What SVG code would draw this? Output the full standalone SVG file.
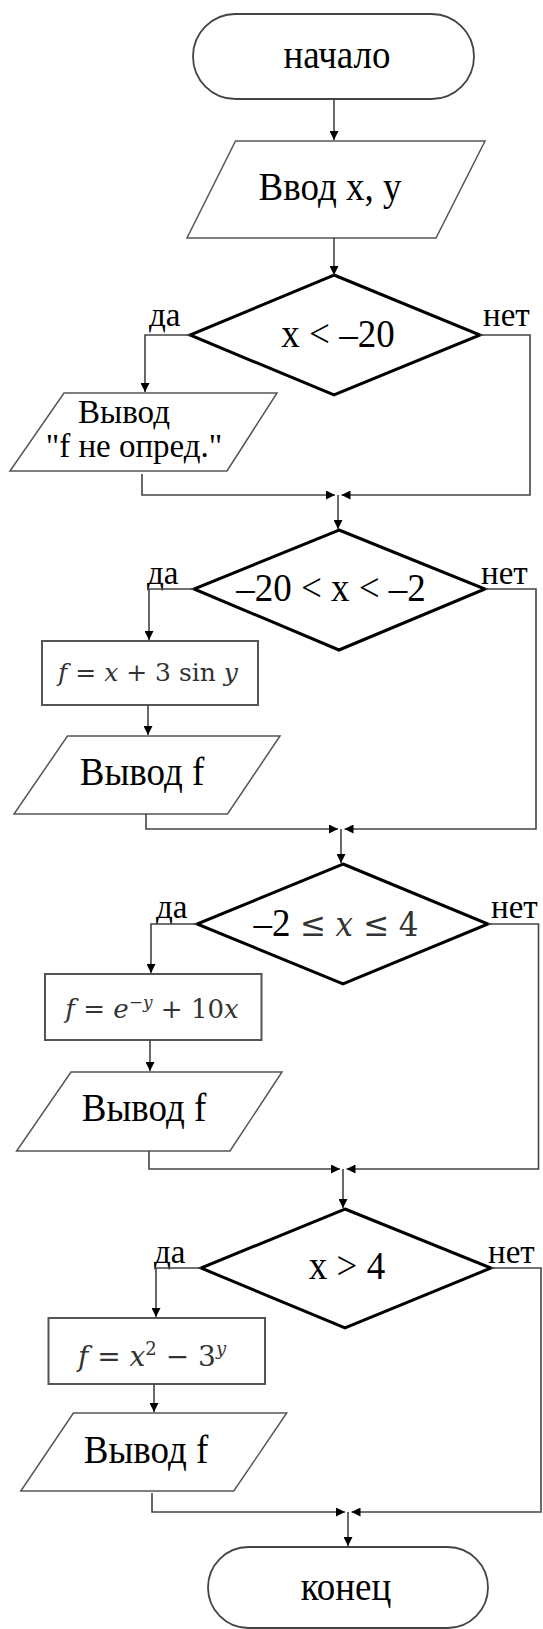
<svg xmlns="http://www.w3.org/2000/svg" width="543" height="1629" viewBox="0 0 543 1629">
<style>
.term{fill:#fff;stroke:#444;stroke-width:1.8}
.io{fill:#fff;stroke:#555;stroke-width:1.5}
.proc{fill:#fff;stroke:#555;stroke-width:2}
.dec{fill:#fff;stroke:#000;stroke-width:3;stroke-linejoin:miter}
.t{font-family:"Liberation Serif","Times New Roman",serif;font-size:37px;fill:#000}
.tl{font-family:"Liberation Serif","Times New Roman",serif;font-size:33px;fill:#000}
.lbl{font-family:"Liberation Serif","Times New Roman",serif;font-size:33px;fill:#000}
.m{font-family:"DejaVu Serif","Liberation Serif",serif;font-size:25px;fill:#333}
.mi{font-style:italic}
.con{fill:none;stroke:#444;stroke-width:1.6}
</style>
<defs>
<marker id="ah" viewBox="0 0 10 10" refX="10" refY="5" markerWidth="9" markerHeight="9" markerUnits="userSpaceOnUse" orient="auto">
<path d="M0,0 L10,5 L0,10 z" fill="#000"/>
</marker>
</defs>

<g id="start">
<rect class="term" x="193" y="14" width="281" height="85" rx="42.5"/>
<text class="t" transform="translate(337,68) scale(1,1.08)" text-anchor="middle">начало</text>
</g>
<g id="input">
<polygon class="io" points="235.5,141 485,141 436,238 187,238"/>
<text class="t" transform="translate(330,200) scale(1,1.08)" text-anchor="middle">Ввод x, y</text>
</g>
<g id="d1">
<polygon class="dec" points="334,275 480,335 334,395 190,335"/>
<text class="t" transform="translate(338,347) scale(1,1.08)" text-anchor="middle">x &lt; –20</text>
</g>
<g id="out0">
<polygon class="io" points="64,393 277,393 227,471 10,471"/>
<text class="tl" x="124" y="423" text-anchor="middle">Вывод</text>
<text class="tl" x="134" y="457" text-anchor="middle">"f не опред."</text>
</g>
<g id="d2">
<polygon class="dec" points="339,530 485,589 339,650 194,589"/>
<text class="t" transform="translate(331,601) scale(1,1.08)" text-anchor="middle">–20 &lt; x &lt; –2</text>
</g>
<g id="p1">
<rect class="proc" x="42" y="641" width="216" height="64"/>
<text class="m" x="148" y="681" text-anchor="middle"><tspan class="mi">f</tspan>  = <tspan class="mi">x</tspan> + 3 sin <tspan class="mi">y</tspan></text>
</g>
<g id="out1">
<polygon class="io" points="67.5,736 280,736 227.5,814 14,814"/>
<text class="t" transform="translate(142,785) scale(1,1.08)" text-anchor="middle">Вывод f</text>
</g>
<g id="d3">
<polygon class="dec" points="343,864 488,924 343,984 197,924"/>
<text class="t" transform="translate(336,936) scale(1,1.08)" text-anchor="middle">–2 <tspan class="m" style="font-size:31px">≤ <tspan class="mi">x</tspan> ≤ 4</tspan></text>
</g>
<g id="p2">
<rect class="proc" x="45" y="974" width="216.5" height="66"/>
<text class="m" x="152" y="1018" text-anchor="middle" style="font-size:26px"><tspan class="mi">f</tspan>  = <tspan class="mi">e</tspan><tspan dy="-10" style="font-size:17px">−<tspan class="mi">y</tspan></tspan><tspan dy="10"> + 10</tspan><tspan class="mi">x</tspan></text>
</g>
<g id="out2">
<polygon class="io" points="71,1072 282,1072 230,1151 16.6,1151"/>
<text class="t" transform="translate(144,1121) scale(1,1.08)" text-anchor="middle">Вывод f</text>
</g>
<g id="d4">
<polygon class="dec" points="345,1209 491,1268 345,1328 201,1268"/>
<text class="t" transform="translate(347,1279) scale(1,1.08)" text-anchor="middle">x &gt; 4</text>
</g>
<g id="p3">
<rect class="proc" x="48.5" y="1318" width="216.5" height="66"/>
<text class="m" x="152" y="1366" text-anchor="middle" style="font-size:28px"><tspan class="mi">f</tspan>  = <tspan class="mi">x</tspan><tspan dy="-11" style="font-size:18px">2</tspan><tspan dy="11"> − 3</tspan><tspan dy="-11" style="font-size:18px" class="mi">y</tspan></text>
</g>
<g id="out3">
<polygon class="io" points="73.4,1413 286.7,1413 233.8,1491 20.8,1491"/>
<text class="t" transform="translate(146,1463) scale(1,1.08)" text-anchor="middle">Вывод f</text>
</g>
<g id="end">
<rect class="term" x="208" y="1547" width="280" height="81" rx="40.5"/>
<text class="t" transform="translate(346,1600) scale(1,1.08)" text-anchor="middle">конец</text>
</g>

<g id="labels">
<text class="lbl" x="149" y="326">да</text>
<text class="lbl" x="483" y="326">нет</text>
<text class="lbl" x="147" y="584">да</text>
<text class="lbl" x="481" y="584">нет</text>
<text class="lbl" x="156" y="918">да</text>
<text class="lbl" x="491" y="918">нет</text>
<text class="lbl" x="154" y="1263">да</text>
<text class="lbl" x="488" y="1263">нет</text>
</g>

<g id="connectors">
<path class="con" d="M334,99 V140" marker-end="url(#ah)"/>
<path class="con" d="M334,238 V275" marker-end="url(#ah)"/>
<path class="con" d="M190,335 H145 V392" marker-end="url(#ah)"/>
<path class="con" d="M142,474 V495 H335" marker-end="url(#ah)"/>
<path class="con" d="M480,335 H530 V495 H341.5" marker-end="url(#ah)"/>
<path class="con" d="M338,495 V529" marker-end="url(#ah)"/>

<path class="con" d="M194,589 H149 V640" marker-end="url(#ah)"/>
<path class="con" d="M148,705 V735" marker-end="url(#ah)"/>
<path class="con" d="M146,814 V829 H338" marker-end="url(#ah)"/>
<path class="con" d="M485,589 H536 V829 H344.5" marker-end="url(#ah)"/>
<path class="con" d="M341,829 V863" marker-end="url(#ah)"/>

<path class="con" d="M197,924 H151 V973" marker-end="url(#ah)"/>
<path class="con" d="M150,1040 V1071" marker-end="url(#ah)"/>
<path class="con" d="M149,1151 V1169 H340" marker-end="url(#ah)"/>
<path class="con" d="M488,924 H538.5 V1169 H346.5" marker-end="url(#ah)"/>
<path class="con" d="M343,1169 V1208" marker-end="url(#ah)"/>

<path class="con" d="M201,1268 H156 V1317" marker-end="url(#ah)"/>
<path class="con" d="M154,1384 V1412" marker-end="url(#ah)"/>
<path class="con" d="M152,1493 V1512 H345" marker-end="url(#ah)"/>
<path class="con" d="M491,1268 H541 V1512 H351.5" marker-end="url(#ah)"/>
<path class="con" d="M348,1512 V1546" marker-end="url(#ah)"/>
</g>
</svg>
